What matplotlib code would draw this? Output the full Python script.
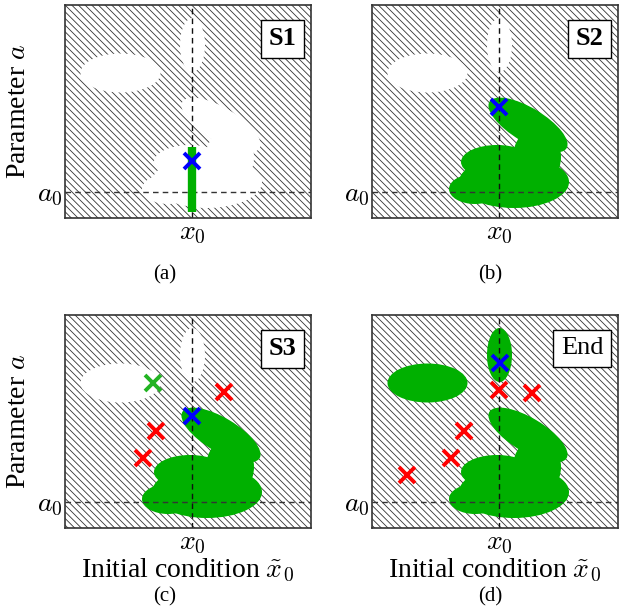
import matplotlib
matplotlib.use('Agg')
import matplotlib.pyplot as plt
from matplotlib.patches import Ellipse, Rectangle

plt.rcParams['font.family'] = ['Liberation Serif', 'DejaVu Serif']
plt.rcParams['mathtext.fontset'] = 'cm'
plt.rcParams['hatch.linewidth'] = 0.6
plt.rcParams['hatch.color'] = '#333333'

# parameter space, x0 and a0 at 0
x_lim = (-127, 119)
a_lim = (-26, 187)

# main basin (union of ellipses): x, a, width, height, angle
blob_x = [29, -2, -24, 15, 38]
blob_a = [67, 30, 3, 10, 35]
blob_w = [90, 72, 52, 110, 48]
blob_h = [34, 34, 30, 52, 58]
blob_ang = [-31, 0, 0, 0, 0]

# isolated regions: left ellipse, small upper ellipse
iso_x = [-71.5, 0.5]
iso_a = [119, 147]
iso_w = [80, 25]
iso_h = [39, 54]

# samples
bar_a = [-20, 45]               # S1 line search along x0
blue_x = [0, -0.5, -0.5, 0.5]
blue_a = [31.5, 85, 86, 139]
green_pts_x = [-39.5]
green_pts_a = [119]
red_c_x = [32, -36, -49]
red_c_a = [110, 71, 44.5]
red_d_x = [0, 33, -35, -48.5, -92]
red_d_a = [112.5, 109.5, 71, 44.5, 27]

labels = ['S1', 'S2', 'S3', 'End']
sub = ['(a)', '(b)', '(c)', '(d)']

GREEN = '#00b000'

fig = plt.figure(figsize=(6.29, 6.10), dpi=100)
W, H = 629, 610
lefts = [65, 372, 65, 372]
tops = [5, 5, 315, 315]
axes = []
for l, t in zip(lefts, tops):
    ax = fig.add_axes([l / W, 1 - (t + 213) / H, 246 / W, 213 / H])
    axes.append(ax)


def draw_regions(ax, blob_col, iso_col):
    ax.add_patch(Rectangle((x_lim[0], a_lim[0]), x_lim[1] - x_lim[0],
                           a_lim[1] - a_lim[0], facecolor='white',
                           edgecolor='#333333', lw=0, hatch='\\\\\\\\\\',
                           zorder=0))
    for x, a, w, h, ang in zip(blob_x, blob_a, blob_w, blob_h, blob_ang):
        ax.add_patch(Ellipse((x, a), w, h, angle=ang, facecolor=blob_col,
                             edgecolor='none', zorder=1))
    for x, a, w, h in zip(iso_x, iso_a, iso_w, iso_h):
        ax.add_patch(Ellipse((x, a), w, h, facecolor=iso_col,
                             edgecolor='none', zorder=1))


draw_regions(axes[0], 'white', 'white')
draw_regions(axes[1], GREEN, 'white')
draw_regions(axes[2], GREEN, 'white')
draw_regions(axes[3], GREEN, GREEN)

axes[0].plot([0, 0], bar_a, color=GREEN, lw=6, solid_capstyle='butt', zorder=3)

mk = dict(marker='x', ls='none', markersize=11, mew=2.8, zorder=5)
for i, ax in enumerate(axes):
    ax.axvline(0, color='#111111', ls=(0, (4, 3)), lw=1, zorder=2)
    ax.axhline(0, color='#333333', ls=(0, (4, 3)), lw=1, zorder=2)
    ax.plot([blue_x[i]], [blue_a[i]], color='#0000ff', **mk)
    ax.text(0.94, 0.895, labels[i], transform=ax.transAxes, ha='right',
            va='top', fontsize=19, fontweight='bold' if i < 3 else 'normal',
            bbox=dict(boxstyle='square,pad=0.28', fc='white', ec='black', lw=1),
            zorder=6)
    ax.set_xlim(x_lim)
    ax.set_ylim(a_lim)
    ax.set_xticks([0])
    ax.set_xticklabels(['$x_0$'])
    ax.set_yticks([0])
    ax.set_yticklabels(['$a_0$'])
    ax.tick_params(length=0, labelsize=20, pad=2)
    for s in ax.spines.values():
        s.set_linewidth(1.2)
        s.set_color('#333333')
        s.set_zorder(7)

axes[2].plot(red_c_x, red_c_a, color='#ff0000', **mk)
axes[2].plot(green_pts_x, green_pts_a, color='#22b422', **mk)
axes[3].plot(red_d_x, red_d_a, color='#ff0000', **mk)

for ax in (axes[0], axes[2]):
    ax.set_ylabel('Parameter $a$', fontsize=20)
    ax.yaxis.set_label_coords(-0.14, 0.5)
for ax in (axes[2], axes[3]):
    ax.set_xlabel(r'Initial condition $\tilde{x}_0$', fontsize=20)
    ax.xaxis.set_label_coords(0.5, -0.138)

pos = [(165, 275), (490, 275), (165, 597), (490, 597)]
for (px, py), s in zip(pos, sub):
    fig.text(px / W, 1 - py / H, s, ha='center', va='center', fontsize=15)

fig.savefig('out.png', dpi=100)
